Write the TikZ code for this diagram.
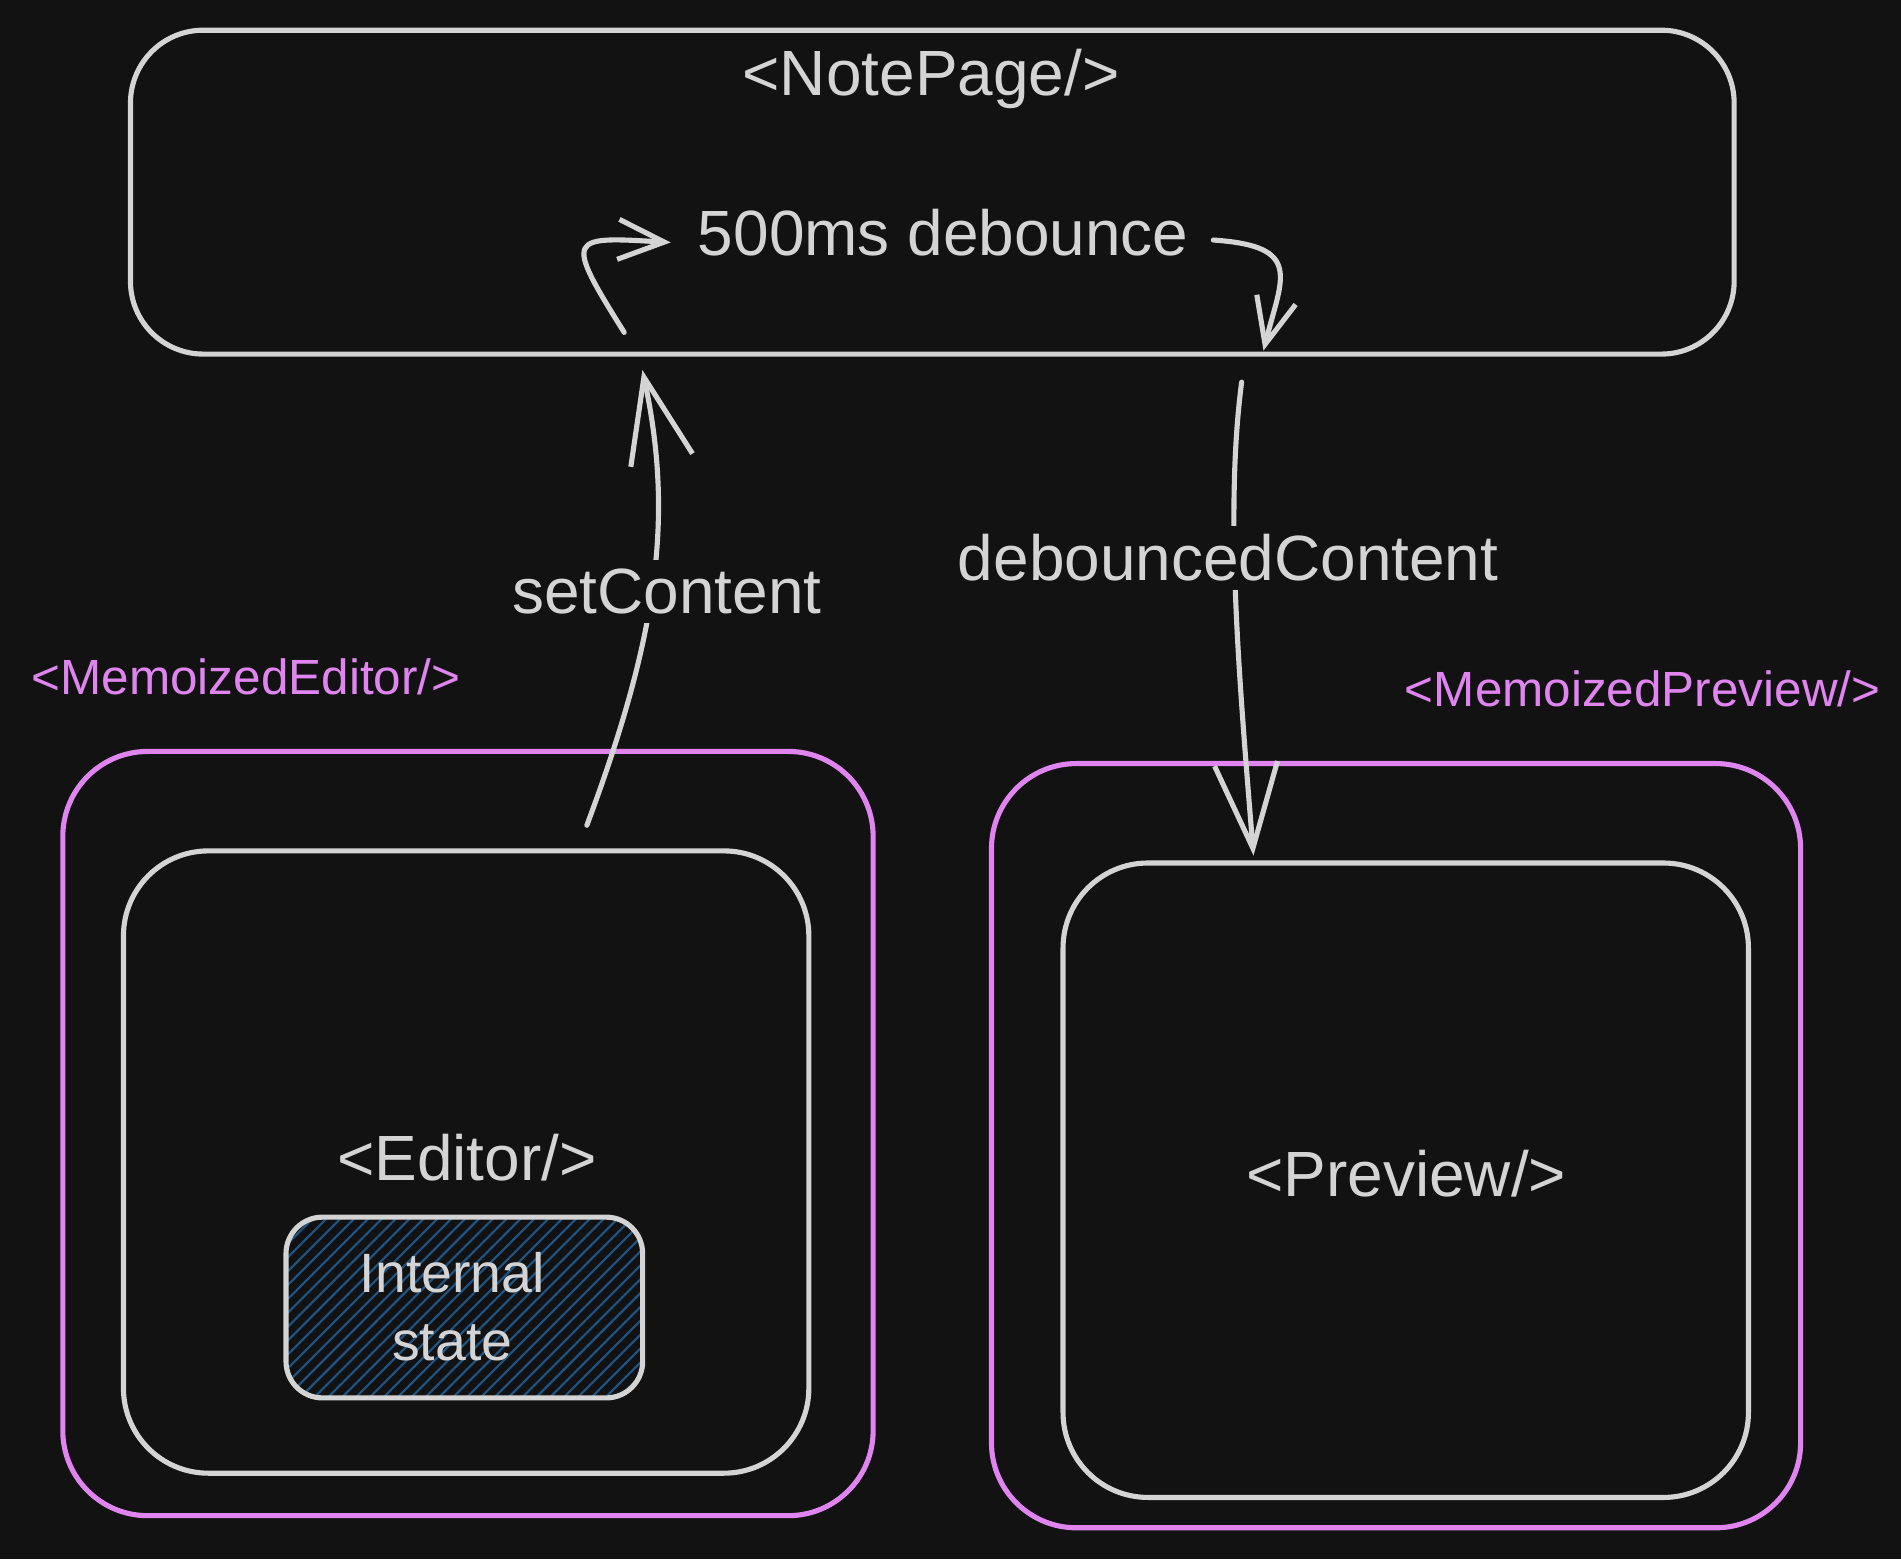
\documentclass[tikz,border=0pt]{standalone}
\usepackage{fontspec}
\setmainfont{Liberation Sans}
\usetikzlibrary{arrows.meta,patterns.meta}
\definecolor{bgdark}{HTML}{121212}
\definecolor{strokegray}{HTML}{D4D4D4}
\definecolor{memopink}{HTML}{E085F0}
\definecolor{hatchblue}{HTML}{1F5585}
\tikzset{
  box/.style={draw=strokegray, line width=1.2pt, rounded corners=#1, inner sep=0pt},
  memobox/.style={draw=memopink, line width=1.2pt, rounded corners=#1, inner sep=0pt},
  lbl/.style={text=strokegray, font=\fontsize{15}{18}\selectfont},
  pinklbl/.style={text=memopink, font=\fontsize{11.6}{14}\selectfont},
  bigarr/.style={draw=strokegray, line width=1.2pt, -{Straight Barb[length=7mm,width=5.2mm]}},
  smallarr/.style={draw=strokegray, line width=1.2pt, -{Straight Barb[length=3.8mm,width=3.3mm]}}
}
\begin{document}
\begin{tikzpicture}[x=0.01cm, y=-0.01cm, line join=round, line cap=round]
	\fill[bgdark] (0,0) rectangle (1568,1286);
	\useasboundingbox (0,0) rectangle (1568,1286);
	% NotePage
	\node[box=0.6cm, minimum width=13.22cm, minimum height=2.67cm] (notepage) at (769,158.5) {};
	\node[lbl] (notepagelbl) at (768,65) {<NotePage/>};
	\node[lbl] (debounce) at (778,192) {500ms debounce};
	% Editor side
	\node[memobox=0.7cm, minimum width=6.68cm, minimum height=6.30cm] (memoeditor) at (386,935) {};
	\node[pinklbl] (memoeditorlbl) at (203,558) {<MemoizedEditor/>};
	\node[box=0.7cm, minimum width=5.65cm, minimum height=5.13cm] (editor) at (384.5,958.5) {};
	\node[lbl] (editorlbl) at (385,955) {<Editor/>};
	\node[box=0.3cm, minimum width=2.94cm, minimum height=1.49cm, fill=bgdark,
		pattern={Lines[angle=45,distance=2.3pt,line width=0.5pt]}, pattern color=hatchblue] (internal) at (383,1078.5) {};
	\node[lbl, font=\fontsize{13}{16}\selectfont, align=center] (internallbl) at (373,1078) {Internal\\ state};
	% Preview side
	\node[memobox=0.7cm, minimum width=6.67cm, minimum height=6.30cm] (memopreview) at (1151.5,945) {};
	\node[pinklbl] (memopreviewlbl) at (1355,568) {<MemoizedPreview/>};
	\node[box=0.7cm, minimum width=5.65cm, minimum height=5.23cm] (preview) at (1159.5,973.5) {};
	\node[lbl] (previewlbl) at (1160,968) {<Preview/>};
	% arrow end points
	\coordinate (lc-start) at ([xshift=-2.54cm,yshift=0.2cm]notepage.south);
	\coordinate (lc-end) at ([xshift=-0.1cm,yshift=-0.08cm]debounce.west);
	\coordinate (rc-start) at ([xshift=0.08cm,yshift=-0.06cm]debounce.east);
	\coordinate (rc-end) at ([xshift=2.73cm,yshift=0.05cm]notepage.south);
	\coordinate (sc-start) at ([xshift=0.995cm,yshift=0.19cm]editor.north);
	\coordinate (sc-end) at ([xshift=-2.39cm,yshift=-0.11cm]notepage.south);
	\coordinate (dc-start) at ([xshift=2.55cm,yshift=-0.21cm]notepage.south);
	\coordinate (dc-end) at ([xshift=-1.255cm,yshift=0.04cm]preview.north);
	\draw[smallarr] (lc-start) .. controls +(-50,-80) and +(-85,-5) .. (lc-end);
	\draw[smallarr] (rc-start) .. controls +(75,5) and +(15,-60) .. (rc-end);
	\draw[bigarr] (sc-start) .. controls +(61,-163) and +(25,117) .. (sc-end);
	\draw[bigarr] (dc-start) .. controls +(-14,107) and +(-12,-148) .. (dc-end);
	\node[lbl, fill=bgdark, inner sep=2pt] (setcontent) at (550,488) {setContent};
	\node[lbl, fill=bgdark, inner sep=2pt] (debounced) at (1013,460) {debouncedContent};
\end{tikzpicture}
\end{document}
